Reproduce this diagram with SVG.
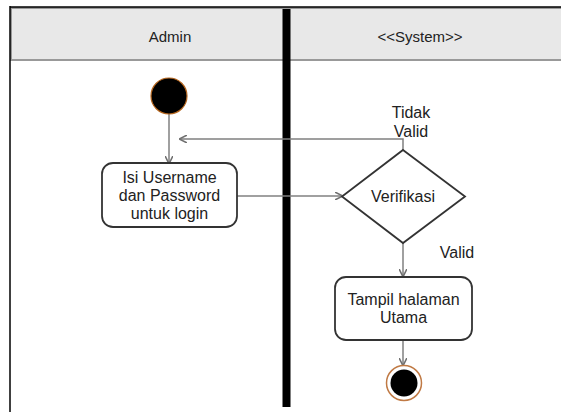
<svg xmlns="http://www.w3.org/2000/svg" width="561" height="412" viewBox="0 0 561 412">
  <style>
    text { font-family: "Liberation Sans", Arial, sans-serif; font-size: 16px; fill: #222; text-anchor: middle; }
    text.lane { font-size: 15px; }
    .flow { fill: none; stroke: #808080; stroke-width: 1.5; }
    .act { fill: #ffffff; stroke: #333333; stroke-width: 1.8; }
  </style>
  <defs>
    <marker id="arrow" viewBox="0 0 10 10" refX="9" refY="5" markerWidth="8" markerHeight="8" markerUnits="userSpaceOnUse" orient="auto">
      <path d="M0,0 L10,5 L0,10" fill="none" stroke="#707070" stroke-width="2"/>
    </marker>
  </defs>
  <rect width="561" height="412" fill="#ffffff"/>

  <!-- swimlane frame -->
  <g id="lanes">
    <rect x="11" y="8" width="552" height="52" fill="#e8e8e8" stroke="#999999" stroke-width="2"/>
    <line x1="10" y1="7" x2="561" y2="7" stroke="#000" stroke-width="1.5"/>
    <line x1="10" y1="6" x2="10" y2="412" stroke="#000" stroke-width="1.5"/>
    <rect x="282.5" y="9" width="8" height="398" fill="#000"/>
    <text class="lane" x="170" y="42">Admin</text>
    <text class="lane" x="420" y="42">&lt;&lt;System&gt;&gt;</text>
  </g>

  <!-- connectors -->
  <g id="connectors">
    <line class="flow" x1="169" y1="114" x2="169" y2="163" marker-end="url(#arrow)"/>
    <line class="flow" x1="237" y1="196" x2="342" y2="196" marker-end="url(#arrow)"/>
    <polyline class="flow" points="403,150 403,139 180,139" marker-end="url(#arrow)"/>
    <line class="flow" x1="403" y1="243" x2="403" y2="276" marker-end="url(#arrow)"/>
    <line class="flow" x1="403" y1="340" x2="403" y2="365" marker-end="url(#arrow)"/>
    <text x="411" y="118">Tidak</text>
    <text x="411" y="137">Valid</text>
    <text x="457" y="258">Valid</text>
  </g>

  <g id="start">
    <circle cx="169" cy="96" r="18" fill="#000" stroke="#b5651d" stroke-width="1.2"/>
  </g>

  <g id="isi-login">
    <rect class="act" x="102" y="163" width="135" height="64" rx="11"/>
    <text x="169.5" y="183">Isi Username</text>
    <text x="169.5" y="201">dan Password</text>
    <text x="169.5" y="219">untuk login</text>
  </g>

  <g id="verifikasi">
    <polygon points="403,150 465,196.5 403,243 342,196.5" fill="#fff" stroke="#333" stroke-width="1.8"/>
    <text x="403" y="202">Verifikasi</text>
  </g>

  <g id="tampil-utama">
    <rect class="act" x="335" y="277" width="137" height="63" rx="11"/>
    <text x="403.5" y="305">Tampil halaman</text>
    <text x="403.5" y="323">Utama</text>
  </g>

  <g id="end">
    <circle cx="404" cy="383" r="17.5" fill="#fff" stroke="#c07a45" stroke-width="1.5"/>
    <circle cx="404" cy="383" r="13.5" fill="#000"/>
  </g>
</svg>
